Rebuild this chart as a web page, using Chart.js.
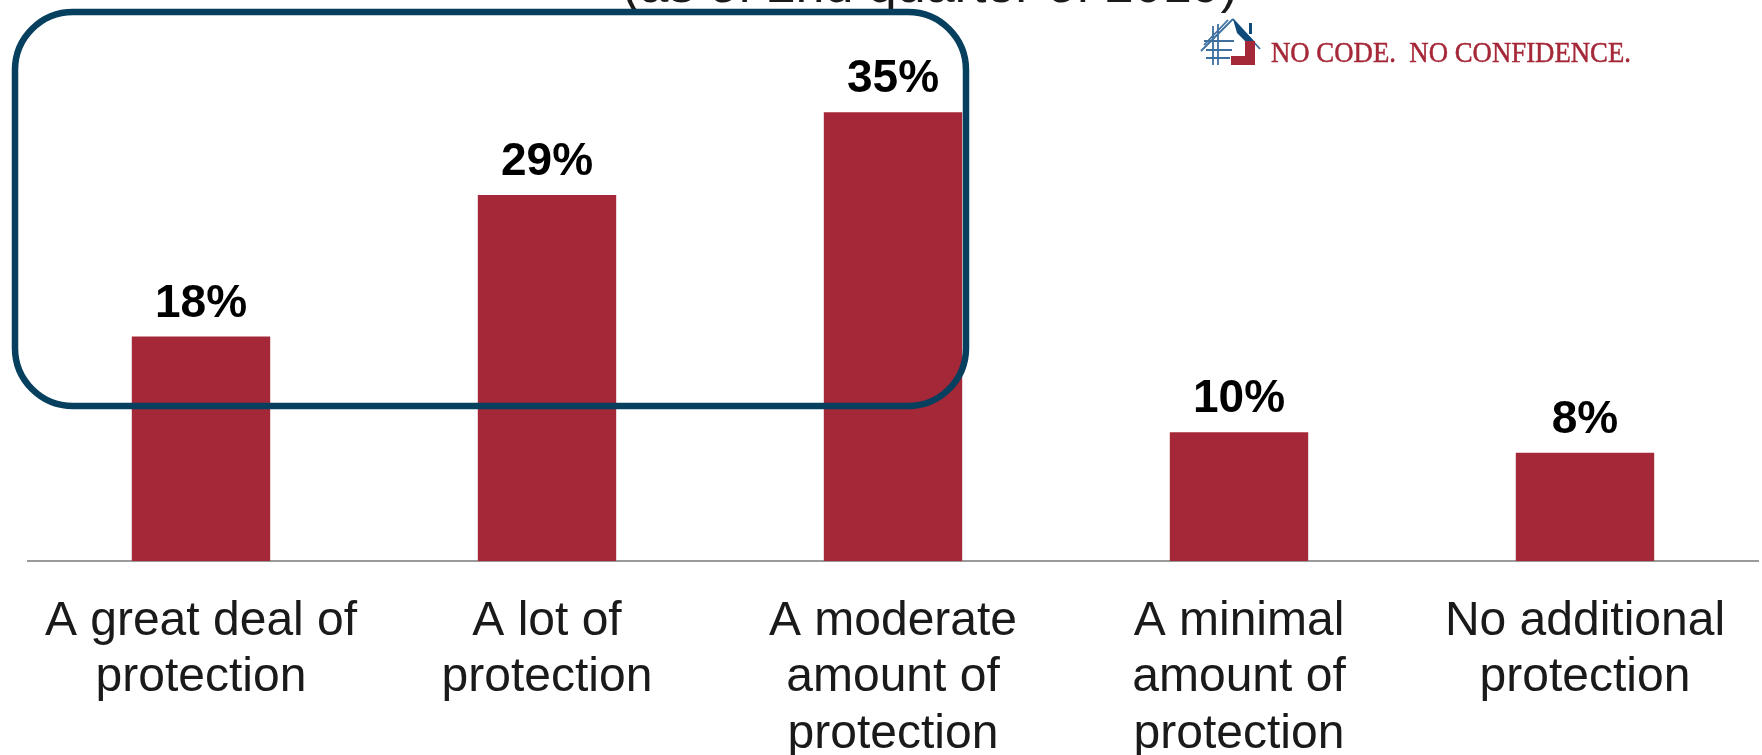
<!DOCTYPE html>
<html>
<head>
<meta charset="utf-8">
<script src="https://cdn.jsdelivr.net/npm/chart.js@4/dist/chart.umd.min.js"></script>
<style>
    body { margin: 0; background: #ffffff; }
    #wrap { width: 1762px; height: 755px; position: relative; }
</style>
</head>
<body>
<div id="wrap"><canvas id="myChart"></canvas></div>
<script>
// category labels, one array entry per line of text
const categories = [
    ['A great deal of', 'protection'],
    ['A lot of', 'protection'],
    ['A moderate', 'amount of', 'protection'],
    ['A minimal', 'amount of', 'protection'],
    ['No additional', 'protection']
];
// values, labels show them rounded
const shares = [17.6, 28.7, 35.2, 10.1, 8.5];
const shareLabels = ['18%', '29%', '35%', '10%', '8%'];

const titleText = '(as of 2nd quarter of 2019)';
const logoText = 'NO CODE.  NO CONFIDENCE.';

document.addEventListener('DOMContentLoaded', () => {
    const chartCanvas = document.getElementById('myChart').getContext('2d');

    // percent labels sitting on top of each bar
    const barLabels = {
        id: 'barLabels',
        afterDatasetsDraw(chart) {
            const ctx = chart.ctx;
            const meta = chart.getDatasetMeta(0);
            ctx.save();
            ctx.font = 'bold 46px "Liberation Sans", Arial, sans-serif';
            ctx.fillStyle = '#000000';
            ctx.textAlign = 'center';
            ctx.textBaseline = 'alphabetic';
            meta.data.forEach((bar, i) => {
                ctx.fillText(shareLabels[i], bar.x, bar.y - 20);
            });
            ctx.restore();
        }
    };

    // the cut off subtitle, the rounded box and the logo
    const extras = {
        id: 'extras',
        afterDraw(chart) {
            const ctx = chart.ctx;
            ctx.save();

            ctx.font = '52px "Liberation Sans", Arial, sans-serif';
            ctx.fillStyle = '#1a1a1a';
            ctx.textAlign = 'center';
            ctx.textBaseline = 'alphabetic';
            ctx.fillText(titleText, 930, 2);

            ctx.strokeStyle = '#073f5e';
            ctx.lineWidth = 6.5;
            ctx.beginPath();
            ctx.roundRect(15, 12, 951, 394, 58);
            ctx.stroke();

            // little house icon
            ctx.lineWidth = 1.8;
            ctx.strokeStyle = '#3d6f9f';
            ctx.beginPath();
            ctx.moveTo(1213, 26); ctx.lineTo(1213, 65);
            ctx.moveTo(1218, 24); ctx.lineTo(1218, 65);
            ctx.moveTo(1204, 41); ctx.lineTo(1234, 41);
            ctx.moveTo(1206, 50); ctx.lineTo(1232, 50);
            ctx.moveTo(1206, 58); ctx.lineTo(1230, 58);
            ctx.moveTo(1233, 19); ctx.lineTo(1201, 51);
            ctx.moveTo(1228, 20); ctx.lineTo(1204, 45);
            ctx.moveTo(1233, 19); ctx.lineTo(1260, 49);
            ctx.stroke();

            ctx.fillStyle = '#0f4a78';
            ctx.beginPath();
            ctx.moveTo(1233, 19);
            ctx.lineTo(1254, 41);
            ctx.lineTo(1245, 41);
            ctx.lineTo(1237, 33);
            ctx.closePath();
            ctx.fill();
            ctx.fillRect(1249, 23, 3, 11);

            ctx.fillStyle = '#a52838';
            ctx.beginPath();
            ctx.moveTo(1245, 41);
            ctx.lineTo(1255, 41);
            ctx.lineTo(1255, 65);
            ctx.lineTo(1231, 65);
            ctx.lineTo(1231, 56);
            ctx.lineTo(1245, 56);
            ctx.closePath();
            ctx.fill();

            // logo words, a tall serif squeezed to the same width
            ctx.font = '30px "Liberation Serif", "Times New Roman", serif';
            ctx.fillStyle = '#a52838';
            ctx.strokeStyle = '#a52838';
            ctx.lineWidth = 0.5;
            ctx.textAlign = 'left';
            const w = ctx.measureText(logoText).width;
            ctx.translate(1271, 62);
            ctx.scale(360 / w, 1);
            ctx.fillText(logoText, 0, 0);
            ctx.strokeText(logoText, 0, 0);

            ctx.restore();
        }
    };

    new Chart(chartCanvas, {
        type: 'bar',
        data: {
            labels: categories,
            datasets: [{
                data: shares,
                backgroundColor: '#a52838',
                borderWidth: 0,
                barPercentage: 0.4,
                categoryPercentage: 1
            }]
        },
        options: {
            responsive: true,
            maintainAspectRatio: false,
            animation: false,
            layout: {
                padding: { top: 51, left: 28, right: 4, bottom: 0 }
            },
            plugins: {
                legend: { display: false },
                tooltip: { enabled: false }
            },
            scales: {
                x: {
                    grid: { display: false, drawTicks: false },
                    border: { display: true, color: '#9a9a9a', width: 2 },
                    ticks: {
                        autoSkip: false,
                        maxRotation: 0,
                        minRotation: 0,
                        padding: 33,
                        color: '#1a1a1a',
                        font: { family: '"Liberation Sans", Arial, sans-serif', size: 48, lineHeight: 1.17 }
                    },
                    // keep the plot bottom where the reference axis is
                    afterFit: (scale) => { scale.height = 194; }
                },
                y: {
                    display: false,
                    min: 0,
                    max: 40
                }
            }
        },
        plugins: [barLabels, extras]
    });
});
</script>
</body>
</html>
